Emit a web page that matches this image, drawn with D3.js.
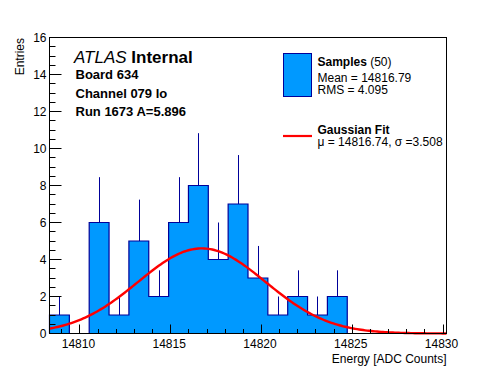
<!DOCTYPE html>
<html>
<head>
<meta charset="utf-8">
<script src="https://cdn.jsdelivr.net/npm/d3@7"></script>
<style>
  body { margin: 0; background: #fff; }
  svg { display: block; font-family: "Liberation Sans", Arial, sans-serif; }
</style>
</head>
<body>
<svg id="chart" width="496" height="372"></svg>
<script>
/* histogram: 20 bins over the axis range */
var histMin = 14808.35;
var histMax = 14830.22;
var binCounts = [1, 0, 6, 1, 5, 2, 6, 8, 4, 7, 3, 1, 2, 1, 2, 0, 0, 0, 0, 0];

/* gaussian fit parameters */
var fitMean = 14816.74;
var fitSigma = 3.508;
var fitPeak = 4.6;

var xMajorTicks = [14810, 14815, 14820, 14825, 14830];
var xMinorTicks = d3.range(14809, 14831, 1);
var yMajorTicks = [0, 2, 4, 6, 8, 10, 12, 14, 16];
var yMinorTicks = d3.range(0, 16.01, 0.5);

var infoLines = ["Board 634", "Channel 079 lo", "Run 1673 A=5.896"];
var legendSamples = ["Mean = 14816.79", "RMS = 4.095"];
var legendFit = "\u03bc = 14816.74, \u03c3 =3.508";

var fillColor = "#0099ff",
    lineColor = "#000099",
    fitColor = "#ff0000";

var svg = d3.select("#chart");

// plot frame (window.top is reserved, so not called "top")
var padL = 49.5, padR = 446.5, padT = 37.5, padB = 333.5;

var x = d3.scaleLinear().domain([histMin, histMax]).range([padL, padR]);
var y = d3.scaleLinear().domain([0, 16]).range([padB, padT]);

var binWidth = (histMax - histMin) / binCounts.length;
var bins = binCounts.map(function(c, i) {
    return { x0: histMin + i * binWidth, x1: histMin + (i + 1) * binWidth, n: c };
});

// error bars first, the fill covers the lower half
svg.append("g").selectAll("line")
    .data(bins.filter(function(b) { return b.n > 0; }))
    .enter().append("line")
        .attr("x1", function(b) { return Math.round(x((b.x0 + b.x1) / 2)) + 0.5; })
        .attr("x2", function(b) { return Math.round(x((b.x0 + b.x1) / 2)) + 0.5; })
        .attr("y1", function(b) { return y(b.n - Math.sqrt(b.n)); })
        .attr("y2", function(b) { return y(b.n + Math.sqrt(b.n)); })
        .attr("stroke", lineColor)
        .attr("stroke-width", 1);

// step outline of the histogram
var stepPts = [[histMin, 0]];
bins.forEach(function(b) {
    stepPts.push([b.x0, b.n]);
    stepPts.push([b.x1, b.n]);
});
stepPts.push([histMax, 0]);

svg.append("path")
    .datum(stepPts)
    .attr("d", d3.area().x(function(d) { return x(d[0]); }).y0(y(0)).y1(function(d) { return y(d[1]); }))
    .attr("fill", fillColor);

svg.append("path")
    .datum(stepPts)
    .attr("d", d3.line().x(function(d) { return x(d[0]); }).y(function(d) { return y(d[1]); }))
    .attr("fill", "none")
    .attr("stroke", lineColor)
    .attr("stroke-width", 1.2);

// fit curve
var fitPts = d3.range(0, 201).map(function(i) {
    var v = histMin + (histMax - histMin) * i / 200;
    var z = (v - fitMean) / fitSigma;
    return [v, fitPeak * Math.exp(-0.5 * z * z)];
});
svg.append("path")
    .datum(fitPts)
    .attr("d", d3.line().x(function(d) { return x(d[0]); }).y(function(d) { return y(d[1]); }))
    .attr("fill", "none")
    .attr("stroke", fitColor)
    .attr("stroke-width", 2.4);

// frame
svg.append("rect")
    .attr("x", padL).attr("y", padT)
    .attr("width", padR - padL).attr("height", padB - padT)
    .attr("fill", "none").attr("stroke", "#000").attr("stroke-width", 1);

// x axis ticks
var xAxis = svg.append("g");
xAxis.selectAll("line.minor")
    .data(xMinorTicks)
    .enter().append("line")
        .attr("class", "minor")
        .attr("x1", function(d) { return Math.round(x(d)) + 0.5; })
        .attr("x2", function(d) { return Math.round(x(d)) + 0.5; })
        .attr("y1", padB)
        .attr("y2", function(d) { return xMajorTicks.indexOf(d) >= 0 ? padB - 9 : padB - 4.5; })
        .attr("stroke", "#000");
xAxis.selectAll("text")
    .data(xMajorTicks)
    .enter().append("text")
        .text(function(d) { return d; })
        .attr("x", function(d) { return x(d) - 1; })
        .attr("y", 347.5)
        .attr("text-anchor", "middle")
        .attr("font-size", 12);
xAxis.append("text")
    .text("Energy [ADC Counts]")
    .attr("x", 446.5).attr("y", 363)
    .attr("text-anchor", "end")
    .attr("font-size", 12);

// y axis ticks
var yAxis = svg.append("g");
yAxis.selectAll("line")
    .data(yMinorTicks)
    .enter().append("line")
        .attr("x1", padL)
        .attr("x2", function(d) { return d % 2 == 0 ? padL + 12 : padL + 6; })
        .attr("y1", function(d) { return Math.round(y(d) - 0.5) + 0.5; })
        .attr("y2", function(d) { return Math.round(y(d) - 0.5) + 0.5; })
        .attr("stroke", "#000");
yAxis.selectAll("text")
    .data(yMajorTicks)
    .enter().append("text")
        .text(function(d) { return d; })
        .attr("x", 46.5)
        .attr("y", function(d) { return y(d); })
        .attr("dy", "0.36em")
        .attr("text-anchor", "end")
        .attr("font-size", 12);
yAxis.append("text")
    .text("Entries")
    .attr("transform", "translate(24,38) rotate(-90)")
    .attr("text-anchor", "end")
    .attr("font-size", 12);

// ATLAS label and run info
var atlas = svg.append("text").attr("x", 74).attr("y", 62.5).attr("font-size", 17);
atlas.append("tspan").attr("font-style", "italic").text("ATLAS");
atlas.append("tspan").attr("font-weight", "bold").text(" Internal");

svg.append("g").selectAll("text")
    .data(infoLines)
    .enter().append("text")
        .text(function(d) { return d; })
        .attr("x", 75.5)
        .attr("y", function(d, i) { return 79 + i * 18.7; })
        .attr("font-size", 13)
        .attr("font-weight", "bold");

// legend
var legend = svg.append("g");
legend.append("rect")
    .attr("x", 283.5).attr("y", 53.5)
    .attr("width", 28).attr("height", 43)
    .attr("fill", fillColor).attr("stroke", lineColor);
var ls = legend.append("text").attr("x", 317.5).attr("y", 66).attr("font-size", 12);
ls.append("tspan").attr("font-weight", "bold").text("Samples");
ls.append("tspan").text(" (50)");
legend.selectAll("text.stat")
    .data(legendSamples)
    .enter().append("text")
        .attr("class", "stat")
        .text(function(d) { return d; })
        .attr("x", 317.5)
        .attr("y", function(d, i) { return 81.5 + i * 12.8; })
        .attr("font-size", 12);
legend.append("line")
    .attr("x1", 283).attr("x2", 312)
    .attr("y1", 136).attr("y2", 136)
    .attr("stroke", fitColor).attr("stroke-width", 2.2);
legend.append("text")
    .text("Gaussian Fit")
    .attr("x", 317.5).attr("y", 133.5)
    .attr("font-size", 12).attr("font-weight", "bold");
legend.append("text")
    .text(legendFit)
    .attr("x", 317.5).attr("y", 146)
    .attr("font-size", 12);
</script>
</body>
</html>
